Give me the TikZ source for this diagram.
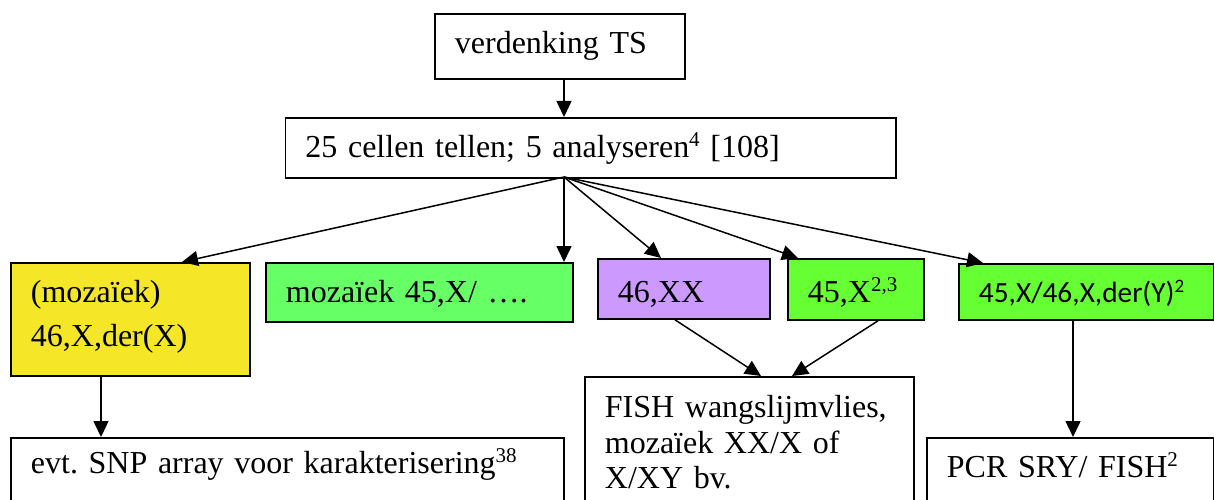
\documentclass[tikz,border=0pt]{standalone}
\usepackage{fontspec}
\setmainfont{Liberation Serif}
\newfontfamily\calib{Carlito}
\usetikzlibrary{arrows.meta}
\frenchspacing
\definecolor{cyel}{RGB}{246,230,40}
\definecolor{cgrn}{RGB}{102,255,102}
\definecolor{cpur}{RGB}{204,153,255}
\definecolor{cbgr}{RGB}{102,255,51}
\newcommand{\supr}[1]{\raisebox{0.36em}{\fontsize{21}{21}\selectfont #1}}
\newcommand{\supc}[1]{\raisebox{0.36em}{\fontsize{19}{19}\selectfont #1}}
\tikzset{
  box/.style={draw, line width=1.8pt, rectangle, anchor=north west,
    inner xsep=20pt, inner ysep=0pt, align=left,
    font=\fontsize{32}{36}\selectfont},
  arr/.style={-{Triangle[length=16pt,width=15pt]}, line width=1.5pt},
}
\begin{document}
\begin{tikzpicture}[x=1pt,y=-1pt]
\useasboundingbox (0,0) rectangle (1214,500);

\node[box, minimum width=250pt, minimum height=65pt, text width=210pt,
  text height=15pt, text depth=0pt] (A) at (434,13) {verdenking TS};
\node[box, minimum width=610.5pt, minimum height=60pt, text width=570.5pt,
  text height=20pt, text depth=0pt] (B) at (284.5,117)
  {25 cellen tellen; 5 analyseren\supr{4} [108]};
\coordinate (hub) at (564,177);

\node[box, fill=cyel, minimum width=239pt, minimum height=113pt, text width=199pt,
  font=\fontsize{32}{43.5}\selectfont,
  text height=0pt, text depth=33pt] (yel) at (10,262)
  {(mozaïek)\\46,X,der(X)};
\node[box, fill=cgrn, minimum width=307pt, minimum height=59pt, text width=267pt,
  text height=21pt, text depth=0pt] (grn) at (265,262) {mozaïek 45,X/ ….};
\node[box, fill=cpur, minimum width=172pt, minimum height=60pt, text width=132pt,
  text height=28pt, text depth=0pt] (pur) at (597,258) {46,XX};
\node[box, fill=cbgr, minimum width=136pt, minimum height=61pt, text width=96pt,
  text height=27pt, text depth=0pt] (x45) at (787,258) {\mbox{45,X\supr{2,3}}};
\node[box, fill=cbgr, minimum width=255pt, minimum height=56pt, text width=215pt,
  font=\calib\fontsize{29.3}{34}\selectfont,
  text height=22pt, text depth=0pt] (bgr) at (958,263) {45,X/46,X,der(Y)\supc{2}};

\node[box, minimum width=553pt, minimum height=83pt, text width=513pt,
  text height=0pt, text depth=11pt] (snp) at (10,437)
  {evt. SNP array voor karakterisering\supr{38}};
\node[box, minimum width=329pt, minimum height=144pt, text width=289pt,
  font=\fontsize{32}{35.5}\selectfont,
  text height=0pt, text depth=62pt] (fish) at (584,376)
  {\mbox{FISH wangslijmvlies,}\\\mbox{mozaïek XX/X of}\\\mbox{X/XY bv.}};
\node[box, minimum width=287pt, minimum height=83pt, text width=247pt,
  text height=0pt, text depth=3pt] (pcr) at (926,437)
  {PCR SRY/ FISH\supr{2}};

\draw[arr] (A.south -| hub) -- (B.north -| hub);
\draw[arr] (hub) -- ([xshift=172pt]yel.north west);
\draw[arr] (hub) -- (grn.north -| hub);
\draw[arr] (hub) -- ([xshift=64pt]pur.north west);
\draw[arr] (hub) -- ([xshift=11pt]x45.north west);
\draw[arr] (hub) -- ([xshift=25pt]bgr.north west);
\draw[arr] ([xshift=91pt]yel.south west) -- ([xshift=91pt]snp.north west);
\draw[arr] ([xshift=78pt]pur.south west) -- ([xshift=177pt]fish.north west);
\draw[arr] ([xshift=91pt]x45.south west) -- ([xshift=208pt]fish.north west);
\draw[arr] ([xshift=115pt]bgr.south west) -- ([xshift=147pt]pcr.north west);
\end{tikzpicture}
\end{document}
